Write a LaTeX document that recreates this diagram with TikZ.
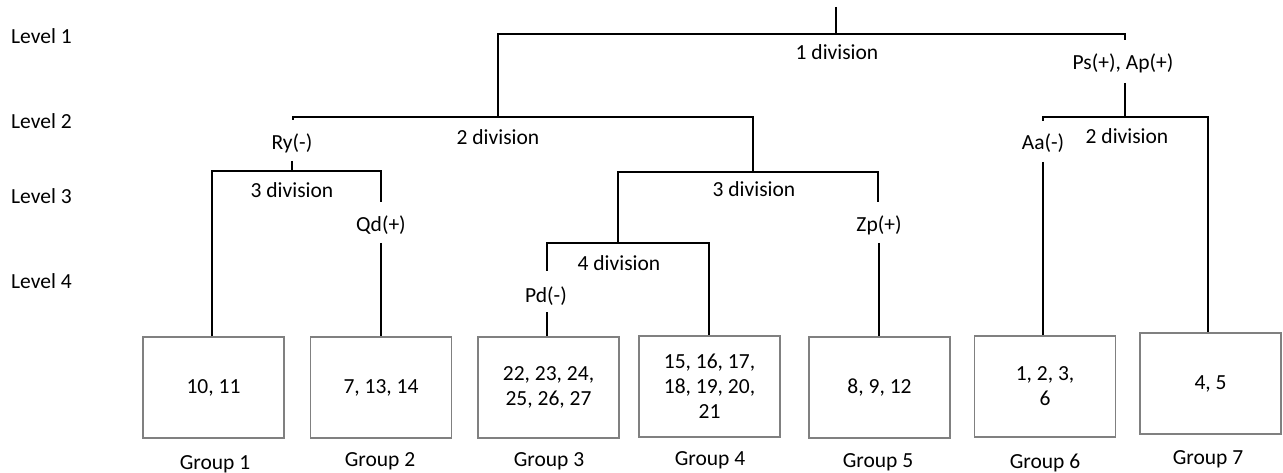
\documentclass[tikz,border=0pt]{standalone}
\usepackage{fontspec}
\setmainfont{Carlito}
\begin{document}
\begin{tikzpicture}[x=1pt,y=-1pt,
  every node/.style={font=\fontsize{21.5}{25}\selectfont},
  lbl/.style={inner sep=0pt,text height=14pt,text depth=0pt},
  grp/.style={draw=black!50,line width=1.1pt,minimum width=141pt,minimum height=101pt,align=center,inner sep=2pt},
  conn/.style={line width=1.6pt,black}]
\useasboundingbox (0,0) rectangle (1283,473);
% level labels
\node[lbl,anchor=west] (lv1) at (11,37) {Level 1};
\node[lbl,anchor=west] (lv2) at (11,122) {Level 2};
\node[lbl,anchor=west] (lv3) at (11,197) {Level 3};
\node[lbl,anchor=west] (lv4) at (11,282) {Level 4};
% boxes
\node[grp] (b1) at (213.5,387.5) {10, 11};
\node[grp] (b2) at (381,387.5) {7, 13, 14};
\node[grp] (b3) at (548.5,387.5) {22, 23, 24,\\25, 26, 27};
\node[grp] (b4) at (709.5,386.5) {15, 16, 17,\\18, 19, 20,\\21};
\node[grp] (b5) at (879.5,387.5) {8, 9, 12};
\node[grp] (b6) at (1045,386.5) {1, 2, 3,\\6};
\node[grp] (b7) at (1210.5,383.5) {4, 5};
% group labels
\node[lbl] (g1) at (215,462) {Group 1};
\node[lbl] (g2) at (380,459) {Group 2};
\node[lbl] (g3) at (549,459) {Group 3};
\node[lbl] (g4) at (710,458) {Group 4};
\node[lbl] (g5) at (878,460) {Group 5};
\node[lbl] (g6) at (1045,461) {Group 6};
\node[lbl] (g7) at (1208,457) {Group 7};
% tree labels
\node[lbl] (d1) at (837,53) {1 division};
\node[lbl] (ps) at (1123,63) {Ps(+), Ap(+)};
\node[lbl] (d2a) at (498,138) {2 division};
\node[lbl] (ry) at (292,143) {Ry(-)};
\node[lbl] (d3a) at (292,191) {3 division};
\node[lbl] (qd) at (381,225) {Qd(+)};
\node[lbl] (d3b) at (754,190) {3 division};
\node[lbl] (zp) at (879,225) {Zp(+)};
\node[lbl] (d4) at (619,264) {4 division};
\node[lbl] (pd) at (546,295) {Pd(-)};
\node[lbl] (aa) at (1043,143) {Aa(-)};
\node[lbl] (d2b) at (1127,137) {2 division};
% coordinates
\coordinate (top) at (836,7);
\coordinate (j1) at (836,34);
\coordinate (l1a) at (498,34);
\coordinate (l1b) at (1125,34);
\coordinate (l1bt) at (1125,40);
\coordinate (psb) at (1125,83);
\coordinate (j2r) at (1125,117);
\coordinate (j2l) at (498,117);
\coordinate (l2a) at (293,117);
\coordinate (l2at) at (293,120);
\coordinate (l2b) at (753,117);
\coordinate (l2c) at (753,172);
\coordinate (ryb) at (292,161);
\coordinate (ryj) at (292,171);
\coordinate (l3a) at (212,171);
\coordinate (l3b) at (381,171);
\coordinate (l3bt) at (381,202);
\coordinate (qdb) at (381,243);
\coordinate (m3a) at (618,172);
\coordinate (m3b) at (878,172);
\coordinate (m3bt) at (878,202);
\coordinate (zpb) at (879,243);
\coordinate (l4j) at (618,243);
\coordinate (l4a) at (547,243);
\coordinate (l4at) at (547,271);
\coordinate (l4b) at (709,243);
\coordinate (pdb) at (547,312);
\coordinate (r2a) at (1043,117);
\coordinate (r2at) at (1043,121);
\coordinate (r2b) at (1208,117);
\coordinate (aab) at (1043,162);
% connectors
\draw[conn] (top) -- (j1);
\draw[conn] (j2l) -- (l1a) -- (l1b) -- (l1bt);
\draw[conn] (psb) -- (j2r);
\draw[conn] (l2at) -- (l2a) -- (l2b) -- (l2c);
\draw[conn] (ryb) -- (ryj);
\draw[conn] (b1.north -| l3a) -- (l3a) -- (l3b) -- (l3bt);
\draw[conn] (qdb) -- (b2.north -| qdb);
\draw[conn] (l4j) -- (m3a) -- (m3b) -- (m3bt);
\draw[conn] (zpb) -- (b5.north -| zpb);
\draw[conn] (l4at) -- (l4a) -- (l4b) -- (b4.north -| l4b);
\draw[conn] (pdb) -- (b3.north -| pdb);
\draw[conn] (r2at) -- (r2a) -- (r2b) -- (b7.north -| r2b);
\draw[conn] (aab) -- (b6.north -| aab);
\end{tikzpicture}
\end{document}
